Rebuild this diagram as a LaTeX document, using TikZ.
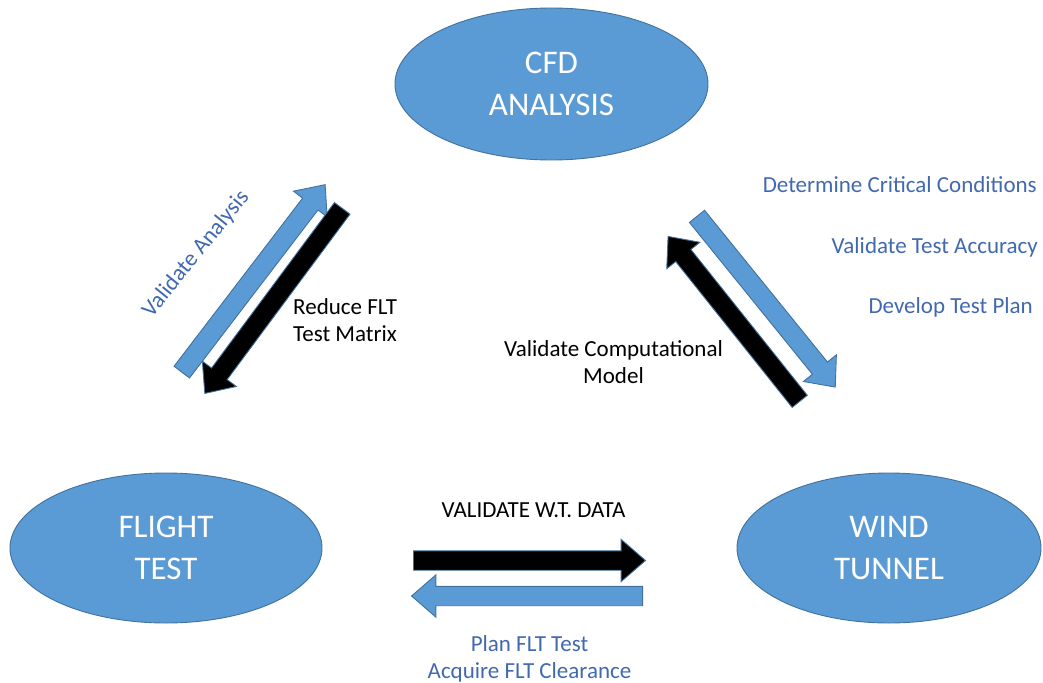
\documentclass[tikz,border=0pt]{standalone}
\usepackage{fontspec}
\setmainfont{Carlito}
\usetikzlibrary{shapes.geometric,shapes.arrows}
\definecolor{fillblue}{HTML}{5B9BD5}
\definecolor{edgeblue}{HTML}{41719C}
\definecolor{textblue}{HTML}{4169B0}
\begin{document}
\begin{tikzpicture}[x=1pt,y=-1pt,
  bubble/.style={ellipse, fill=fillblue, draw=edgeblue, line width=0.9pt, inner sep=0pt,
    text=white, font=\fontsize{33}{42}\selectfont, align=center},
  blockarrow/.style={single arrow, draw=edgeblue, line width=0.9pt, inner sep=0pt,
    inner ysep=9.25pt, single arrow head extend=11.5pt, single arrow tip angle=82, anchor=tail},
  bluearrow/.style={blockarrow, fill=fillblue},
  blackarrow/.style={blockarrow, fill=black},
  labelblue/.style={text=textblue, font=\fontsize{23}{27}\selectfont, inner sep=0pt},
  labelblack/.style={text=black, font=\fontsize{23}{27}\selectfont, inner sep=0pt}]
\useasboundingbox (0,0) rectangle (1043,682);

% ellipses
\node[bubble, minimum width=313pt, minimum height=152pt] (cfd) at (551.5,84) {CFD\\ANALYSIS};
\node[bubble, minimum width=312pt, minimum height=150pt] (flt) at (166,548) {FLIGHT\\TEST};
\node[bubble, minimum width=304pt, minimum height=150pt] (wt) at (889,548) {WIND\\TUNNEL};

% block arrows (placed by their tails)
\node[bluearrow, minimum height=236pt, rotate=52.6] (a1) at (181.5,372.5) {};
\node[blackarrow, minimum height=230.5pt, rotate=233.4] (a2) at (342.5,208) {};
\node[bluearrow, minimum height=219.7pt, rotate=-51] (a3) at (696.7,216) {};
\node[blackarrow, minimum height=211pt, rotate=128.6] (a4) at (800,401.7) {};
\node[blackarrow, minimum height=232pt] (a5) at (413,560.5) {};
\node[bluearrow, minimum height=231pt, rotate=180] (a6) at (643,596) {};

% labels
\node[labelblue, rotate=51] (va) at (196,254) {Validate Analysis};
\node[labelblack, align=left, anchor=north west] (rf) at (293,298) {Reduce FLT\\Test Matrix};
\node[labelblack, align=center, anchor=north] (vc) at (613.5,340) {Validate Computational\\Model};
\node[labelblue, anchor=base east] (dc) at (1037,192) {Determine Critical Conditions};
\node[labelblue, anchor=base east] (vt) at (1038,253) {Validate Test Accuracy};
\node[labelblue, anchor=base east] (dp) at (1033,313) {Develop Test Plan};
\node[labelblack, anchor=base] (vw) at (533.5,517) {VALIDATE W.T. DATA};
\node[labelblue, align=center, anchor=north] (pf) at (529.5,635) {Plan FLT Test\\Acquire FLT Clearance};
\end{tikzpicture}
\end{document}
